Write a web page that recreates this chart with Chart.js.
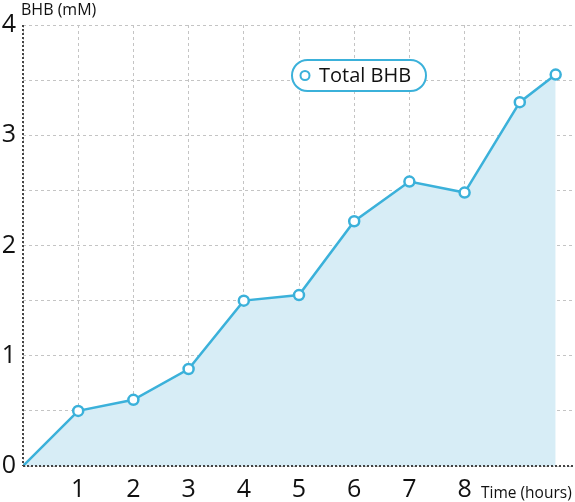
<!DOCTYPE html>
<html>
<head>
<meta charset="utf-8">
<script src="https://cdn.jsdelivr.net/npm/chart.js@4/dist/chart.umd.min.js"></script>
<style>
html, body { margin: 0; padding: 0; background: #fff; }
#wrap { width: 575px; height: 502px; position: relative; }
</style>
</head>
<body>
<div id="wrap"><canvas id="bhb_chart" width="575" height="502"></canvas></div>
<script>
// 데이터
const timeHours = [0, 1, 2, 3, 4, 5, 6, 7, 8, 9, 9.65];
const totalBHB = [0, 0.5, 0.6, 0.88, 1.5, 1.55, 2.22, 2.58, 2.48, 3.3, 3.55];
const xTickLabels = ['1', '2', '3', '4', '5', '6', '7', '8'];
const yTickLabels = ['0', '1', '2', '3', '4'];
const seriesName = 'Total BHB';

const blue = '#3bb1da';
const fontName = '"Open Sans", "DejaVu Sans", sans-serif';

// 점선 축, 축 제목, 범례 그리기
const extras = {
    id: 'extras',
    afterDatasetsDraw(chart) {
        const c = chart.ctx;
        const a = chart.chartArea;
        c.save();
        c.strokeStyle = '#444';
        c.lineWidth = 2;
        c.setLineDash([2, 2]);
        c.beginPath();
        c.moveTo(a.left, a.top);
        c.lineTo(a.left, a.bottom);
        c.moveTo(a.left, a.bottom);
        c.lineTo(a.right, a.bottom);
        c.stroke();
        c.restore();
    },
    afterDraw(chart) {
        const c = chart.ctx;
        c.save();
        c.fillStyle = '#111';
        c.textBaseline = 'alphabetic';
        c.textAlign = 'left';
        c.font = '16px ' + fontName;
        c.fillText('BHB (mM)', 21, 15);
        c.font = '15.5px ' + fontName;
        c.fillText('Time (hours)', 481, 498);

        // pill legend
        let x0 = 292, y0 = 60, w = 134, h = 31, r = 15.5;
        c.beginPath();
        c.roundRect(x0, y0, w, h, r);
        c.fillStyle = '#fff';
        c.fill();
        c.lineWidth = 2;
        c.strokeStyle = blue;
        c.stroke();
        c.beginPath();
        c.arc(305, 75.5, 4.5, 0, Math.PI * 2);
        c.stroke();
        c.fillStyle = '#111';
        c.font = '20px ' + fontName;
        c.textBaseline = 'middle';
        c.fillText(chart.data.datasets[0].label, 319, 76);
        c.restore();
    }
};

let ctx = document.getElementById('bhb_chart');
let myChart = new Chart(ctx, {
    type: 'line',
    data: {
        datasets: [{
            label: seriesName,
            data: timeHours.map((t, i) => ({x: t, y: totalBHB[i]})),
            fill: 'origin',
            backgroundColor: '#d7edf6',
            borderColor: blue,
            borderWidth: 2.5,
            tension: 0,
            pointRadius: timeHours.map((t, i) => i === 0 ? 0 : 5),
            pointBorderWidth: 2.5,
            pointBackgroundColor: '#fff',
            pointBorderColor: blue
        }]
    },
    plugins: [extras],
    options: {
        responsive: false,
        animation: false,
        layout: {autoPadding: false, padding: {top: 25, right: 0, left: 0, bottom: 0}},
        plugins: {legend: {display: false}, tooltip: {enabled: false}},
        scales: {
            x: {
                type: 'linear',
                min: 0,
                max: 10,
                afterFit: (s) => { s.height = 36; s.paddingLeft = 0; s.paddingRight = 0; },
                grid: {color: '#c4c4c4', drawTicks: false, lineWidth: 1},
                border: {display: false, dash: [3, 3]},
                ticks: {
                    stepSize: 1,
                    autoSkip: false,
                    maxRotation: 0,
                    padding: 9,
                    color: '#111',
                    font: {family: fontName, size: 25},
                    callback: (v) => xTickLabels.includes(String(v)) ? String(v) : ''
                }
            },
            y: {
                min: 0,
                max: 4,
                afterFit: (s) => { s.width = 23; s.paddingTop = 0; s.paddingBottom = 0; },
                grid: {color: '#c4c4c4', drawTicks: false, lineWidth: 1},
                border: {display: false, dash: [3, 3]},
                ticks: {
                    stepSize: 0.5,
                    autoSkip: false,
                    padding: 7,
                    color: '#111',
                    font: {family: fontName, size: 25},
                    callback: (v) => yTickLabels.includes(String(v)) ? String(v) : ''
                }
            }
        }
    }
});
</script>
</body>
</html>
